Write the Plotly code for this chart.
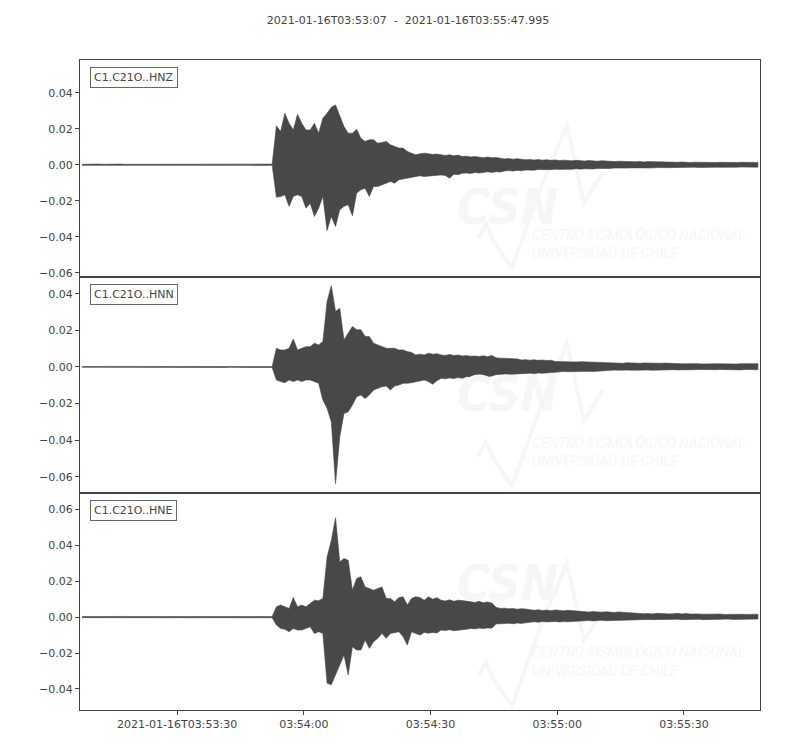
import pandas as pd
import plotly.graph_objects as go
from plotly.subplots import make_subplots

start_time = pd.Timestamp("2021-01-16T03:53:07")
end_time = pd.Timestamp("2021-01-16T03:55:47.995")
channels = ["C1.C21O..HNZ", "C1.C21O..HNN", "C1.C21O..HNE"]

# peak values (max / min) per one-second bin (m/s^2)
bin_seconds = list(range(161))

hnz_max = [
    0.0003, 0.0004, 0.0003, 0.0003, 0.0004, 0.0003, 0.0004, 0.0003, 0.0003, 0.0004,
    0.0003, 0.0003, 0.0004, 0.0003, 0.0004, 0.0003, 0.0003, 0.0004, 0.0003, 0.0003,
    0.0004, 0.0003, 0.0003, 0.0004, 0.0003, 0.0004, 0.0003, 0.0003, 0.0004, 0.0003,
    0.0003, 0.0004, 0.0003, 0.0004, 0.0003, 0.0003, 0.0004, 0.0003, 0.0004, 0.0003,
    0.0003, 0.0004, 0.0003, 0.0004, 0.0003, 0.0004, 0.0217, 0.0185, 0.0287, 0.0231,
    0.0194, 0.0281, 0.0231, 0.0194, 0.0194, 0.0231, 0.0176, 0.0259, 0.0287, 0.0320,
    0.0333, 0.0269, 0.0213, 0.0176, 0.0176, 0.0198, 0.0148, 0.0130, 0.0139, 0.0139,
    0.0120, 0.0124, 0.0130, 0.0111, 0.0102, 0.0093, 0.0093, 0.0074, 0.0065, 0.0056,
    0.0061, 0.0065, 0.0062, 0.0058, 0.0060, 0.0055, 0.0052, 0.0056, 0.0050, 0.0054,
    0.0046, 0.0048, 0.0044, 0.0046, 0.0042, 0.0040, 0.0043, 0.0039, 0.0041, 0.0037,
    0.0033, 0.0035, 0.0031, 0.0034, 0.0030, 0.0028, 0.0030, 0.0027, 0.0029, 0.0026,
    0.0028, 0.0025, 0.0027, 0.0024, 0.0026, 0.0024, 0.0022, 0.0025, 0.0023, 0.0021,
    0.0024, 0.0022, 0.0020, 0.0023, 0.0021, 0.0019, 0.0018, 0.0020, 0.0019, 0.0017,
    0.0018, 0.0017, 0.0019, 0.0016, 0.0018, 0.0017, 0.0016, 0.0015, 0.0017, 0.0016,
    0.0015, 0.0014, 0.0016, 0.0014, 0.0013, 0.0015, 0.0014, 0.0013, 0.0014, 0.0015,
    0.0013, 0.0014, 0.0013, 0.0015, 0.0014, 0.0013, 0.0014, 0.0013, 0.0012, 0.0014,
    0.0013,
]
hnz_min = [
    -0.0003, -0.0003, -0.0004, -0.0003, -0.0003, -0.0004, -0.0003, -0.0003, -0.0004, -0.0003,
    -0.0004, -0.0003, -0.0003, -0.0004, -0.0003, -0.0003, -0.0004, -0.0003, -0.0003, -0.0004,
    -0.0003, -0.0003, -0.0004, -0.0003, -0.0004, -0.0003, -0.0003, -0.0004, -0.0003, -0.0003,
    -0.0004, -0.0003, -0.0003, -0.0004, -0.0003, -0.0004, -0.0003, -0.0003, -0.0004, -0.0003,
    -0.0003, -0.0004, -0.0003, -0.0003, -0.0004, -0.0003, -0.0180, -0.0176, -0.0167, -0.0231,
    -0.0176, -0.0167, -0.0176, -0.0241, -0.0213, -0.0287, -0.0241, -0.0176, -0.0365, -0.0287,
    -0.0343, -0.0250, -0.0231, -0.0222, -0.0283, -0.0157, -0.0139, -0.0130, -0.0176, -0.0120,
    -0.0120, -0.0111, -0.0102, -0.0093, -0.0102, -0.0083, -0.0080, -0.0074, -0.0069, -0.0065,
    -0.0061, -0.0065, -0.0063, -0.0060, -0.0058, -0.0056, -0.0060, -0.0074, -0.0052, -0.0055,
    -0.0047, -0.0045, -0.0048, -0.0043, -0.0046, -0.0041, -0.0039, -0.0042, -0.0038, -0.0040,
    -0.0034, -0.0032, -0.0035, -0.0031, -0.0033, -0.0029, -0.0028, -0.0030, -0.0026, -0.0028,
    -0.0026, -0.0027, -0.0024, -0.0026, -0.0025, -0.0023, -0.0025, -0.0022, -0.0024, -0.0022,
    -0.0021, -0.0023, -0.0020, -0.0021, -0.0019, -0.0020, -0.0018, -0.0019, -0.0017, -0.0018,
    -0.0017, -0.0018, -0.0016, -0.0017, -0.0018, -0.0016, -0.0017, -0.0015, -0.0016, -0.0017,
    -0.0014, -0.0015, -0.0013, -0.0015, -0.0014, -0.0013, -0.0015, -0.0014, -0.0013, -0.0014,
    -0.0013, -0.0014, -0.0012, -0.0013, -0.0014, -0.0013, -0.0012, -0.0014, -0.0013, -0.0012,
    -0.0013,
]

hnn_max = [
    0.0003, 0.0002, 0.0003, 0.0002, 0.0003, 0.0003, 0.0002, 0.0003, 0.0002, 0.0003,
    0.0002, 0.0003, 0.0003, 0.0002, 0.0003, 0.0002, 0.0003, 0.0002, 0.0003, 0.0003,
    0.0002, 0.0003, 0.0002, 0.0003, 0.0002, 0.0003, 0.0003, 0.0002, 0.0003, 0.0002,
    0.0003, 0.0002, 0.0003, 0.0003, 0.0002, 0.0003, 0.0002, 0.0003, 0.0002, 0.0003,
    0.0003, 0.0002, 0.0003, 0.0002, 0.0003, 0.0002, 0.0102, 0.0093, 0.0093, 0.0102,
    0.0152, 0.0093, 0.0102, 0.0111, 0.0111, 0.0130, 0.0120, 0.0139, 0.0358, 0.0444,
    0.0303, 0.0321, 0.0148, 0.0184, 0.0221, 0.0203, 0.0203, 0.0166, 0.0166, 0.0130,
    0.0120, 0.0111, 0.0102, 0.0102, 0.0102, 0.0093, 0.0093, 0.0084, 0.0079, 0.0066,
    0.0070, 0.0066, 0.0075, 0.0070, 0.0072, 0.0066, 0.0063, 0.0068, 0.0062, 0.0066,
    0.0060, 0.0062, 0.0058, 0.0060, 0.0057, 0.0061, 0.0056, 0.0063, 0.0050, 0.0048,
    0.0047, 0.0045, 0.0048, 0.0044, 0.0038, 0.0040, 0.0037, 0.0039, 0.0036, 0.0038,
    0.0035, 0.0037, 0.0030, 0.0029, 0.0031, 0.0028, 0.0030, 0.0027, 0.0029, 0.0028,
    0.0027, 0.0029, 0.0026, 0.0024, 0.0022, 0.0023, 0.0021, 0.0022, 0.0020, 0.0023,
    0.0021, 0.0022, 0.0020, 0.0022, 0.0021, 0.0019, 0.0022, 0.0020, 0.0021, 0.0019,
    0.0018, 0.0019, 0.0017, 0.0018, 0.0019, 0.0017, 0.0018, 0.0016, 0.0018, 0.0017,
    0.0018, 0.0017, 0.0016, 0.0018, 0.0017, 0.0016, 0.0018, 0.0017, 0.0016, 0.0017,
    0.0018,
]
hnn_min = [
    -0.0002, -0.0003, -0.0002, -0.0003, -0.0002, -0.0003, -0.0003, -0.0002, -0.0003, -0.0002,
    -0.0003, -0.0002, -0.0003, -0.0003, -0.0002, -0.0003, -0.0002, -0.0003, -0.0002, -0.0003,
    -0.0003, -0.0002, -0.0003, -0.0002, -0.0003, -0.0002, -0.0003, -0.0003, -0.0002, -0.0003,
    -0.0002, -0.0003, -0.0002, -0.0003, -0.0003, -0.0002, -0.0003, -0.0002, -0.0003, -0.0002,
    -0.0003, -0.0003, -0.0002, -0.0003, -0.0002, -0.0003, -0.0071, -0.0080, -0.0086, -0.0071,
    -0.0080, -0.0071, -0.0080, -0.0071, -0.0071, -0.0080, -0.0089, -0.0181, -0.0226, -0.0300,
    -0.0637, -0.0382, -0.0254, -0.0245, -0.0208, -0.0163, -0.0153, -0.0172, -0.0153, -0.0126,
    -0.0117, -0.0108, -0.0104, -0.0126, -0.0104, -0.0099, -0.0089, -0.0089, -0.0086, -0.0080,
    -0.0077, -0.0071, -0.0080, -0.0095, -0.0075, -0.0062, -0.0065, -0.0060, -0.0063, -0.0058,
    -0.0062, -0.0053, -0.0055, -0.0051, -0.0054, -0.0050, -0.0053, -0.0049, -0.0042, -0.0040,
    -0.0039, -0.0041, -0.0038, -0.0040, -0.0035, -0.0036, -0.0034, -0.0037, -0.0033, -0.0035,
    -0.0034, -0.0032, -0.0026, -0.0027, -0.0025, -0.0026, -0.0028, -0.0024, -0.0026, -0.0025,
    -0.0024, -0.0025, -0.0023, -0.0019, -0.0018, -0.0019, -0.0017, -0.0018, -0.0019, -0.0017,
    -0.0018, -0.0017, -0.0019, -0.0018, -0.0017, -0.0018, -0.0016, -0.0017, -0.0018, -0.0016,
    -0.0015, -0.0016, -0.0015, -0.0014, -0.0016, -0.0015, -0.0014, -0.0016, -0.0015, -0.0014,
    -0.0015, -0.0014, -0.0016, -0.0015, -0.0014, -0.0015, -0.0016, -0.0014, -0.0015, -0.0014,
    -0.0015,
]

hne_max = [
    0.0003, 0.0004, 0.0003, 0.0004, 0.0003, 0.0003, 0.0004, 0.0003, 0.0004, 0.0003,
    0.0004, 0.0003, 0.0003, 0.0004, 0.0003, 0.0004, 0.0003, 0.0003, 0.0004, 0.0003,
    0.0003, 0.0004, 0.0003, 0.0004, 0.0003, 0.0003, 0.0004, 0.0003, 0.0004, 0.0003,
    0.0004, 0.0003, 0.0003, 0.0004, 0.0003, 0.0004, 0.0003, 0.0003, 0.0004, 0.0003,
    0.0003, 0.0004, 0.0003, 0.0004, 0.0003, 0.0003, 0.0057, 0.0067, 0.0057, 0.0048,
    0.0109, 0.0057, 0.0067, 0.0057, 0.0076, 0.0094, 0.0091, 0.0104, 0.0335, 0.0427,
    0.0553, 0.0307, 0.0326, 0.0316, 0.0150, 0.0215, 0.0224, 0.0168, 0.0159, 0.0150,
    0.0159, 0.0168, 0.0104, 0.0104, 0.0085, 0.0109, 0.0113, 0.0067, 0.0104, 0.0113,
    0.0109, 0.0094, 0.0113, 0.0100, 0.0108, 0.0094, 0.0090, 0.0096, 0.0088, 0.0094,
    0.0092, 0.0087, 0.0085, 0.0082, 0.0088, 0.0080, 0.0084, 0.0078, 0.0055, 0.0048,
    0.0050, 0.0046, 0.0048, 0.0044, 0.0047, 0.0045, 0.0040, 0.0038, 0.0041, 0.0037,
    0.0039, 0.0036, 0.0040, 0.0037, 0.0035, 0.0038, 0.0036, 0.0034, 0.0031, 0.0030,
    0.0028, 0.0031, 0.0029, 0.0027, 0.0030, 0.0028, 0.0026, 0.0029, 0.0027, 0.0025,
    0.0022, 0.0020, 0.0021, 0.0019, 0.0020, 0.0018, 0.0021, 0.0019, 0.0020, 0.0018,
    0.0019, 0.0021, 0.0018, 0.0020, 0.0017, 0.0019, 0.0018, 0.0016, 0.0017, 0.0018,
    0.0016, 0.0017, 0.0015, 0.0016, 0.0017, 0.0015, 0.0016, 0.0015, 0.0016, 0.0015,
    0.0016,
]
hne_min = [
    -0.0003, -0.0003, -0.0004, -0.0003, -0.0004, -0.0003, -0.0003, -0.0004, -0.0003, -0.0004,
    -0.0003, -0.0004, -0.0003, -0.0003, -0.0004, -0.0003, -0.0004, -0.0003, -0.0003, -0.0004,
    -0.0004, -0.0003, -0.0003, -0.0004, -0.0003, -0.0004, -0.0003, -0.0003, -0.0004, -0.0003,
    -0.0003, -0.0004, -0.0003, -0.0004, -0.0003, -0.0003, -0.0004, -0.0003, -0.0004, -0.0003,
    -0.0004, -0.0003, -0.0003, -0.0004, -0.0003, -0.0004, -0.0044, -0.0063, -0.0068, -0.0081,
    -0.0063, -0.0072, -0.0072, -0.0063, -0.0054, -0.0091, -0.0081, -0.0091, -0.0368, -0.0377,
    -0.0313, -0.0266, -0.0211, -0.0322, -0.0165, -0.0183, -0.0183, -0.0128, -0.0174, -0.0137,
    -0.0118, -0.0091, -0.0118, -0.0091, -0.0087, -0.0081, -0.0109, -0.0155, -0.0081, -0.0091,
    -0.0100, -0.0085, -0.0090, -0.0085, -0.0088, -0.0072, -0.0075, -0.0070, -0.0076, -0.0072,
    -0.0070, -0.0068, -0.0063, -0.0066, -0.0061, -0.0064, -0.0060, -0.0062, -0.0038, -0.0035,
    -0.0036, -0.0034, -0.0037, -0.0033, -0.0035, -0.0032, -0.0027, -0.0026, -0.0028, -0.0025,
    -0.0027, -0.0026, -0.0024, -0.0027, -0.0025, -0.0026, -0.0024, -0.0022, -0.0020, -0.0021,
    -0.0019, -0.0021, -0.0020, -0.0018, -0.0020, -0.0019, -0.0021, -0.0018, -0.0019, -0.0017,
    -0.0014, -0.0013, -0.0015, -0.0014, -0.0013, -0.0014, -0.0015, -0.0013, -0.0014, -0.0012,
    -0.0013, -0.0012, -0.0014, -0.0013, -0.0012, -0.0013, -0.0012, -0.0014, -0.0013, -0.0012,
    -0.0012, -0.0013, -0.0012, -0.0011, -0.0013, -0.0012, -0.0011, -0.0012, -0.0013, -0.0012,
    -0.0011,
]

y_ranges = [[-0.0622, 0.0583], [-0.0690, 0.0493], [-0.0517, 0.0689]]
y_tickvals = [
    [-0.06, -0.04, -0.02, 0.0, 0.02, 0.04],
    [-0.06, -0.04, -0.02, 0.0, 0.02, 0.04],
    [-0.04, -0.02, 0.0, 0.02, 0.04, 0.06],
]
x_tick_times = ["2021-01-16 03:53:30", "2021-01-16 03:54:00", "2021-01-16 03:54:30",
                "2021-01-16 03:55:00", "2021-01-16 03:55:30"]
x_tick_text = ["2021-01-16T03:53:30", "03:54:00", "03:54:30", "03:55:00", "03:55:30"]

INK = "#444444"
WAVE = "#484848"
WATERMARK = "#f6f6f6"


def envelope_polygon(maxs, mins):
    # min/max envelope per bin, closed into one filled outline
    t_mid = [start_time + pd.Timedelta(seconds=s + 0.5) for s in bin_seconds]
    xs = t_mid + t_mid[::-1]
    ys = list(maxs) + list(mins)[::-1]
    return xs, ys


fig = make_subplots(rows=3, cols=1, shared_xaxes=True, vertical_spacing=0)

series = [(hnz_max, hnz_min), (hnn_max, hnn_min), (hne_max, hne_min)]
for i, (mx, mn) in enumerate(series):
    xs, ys = envelope_polygon(mx, mn)
    fig.add_trace(go.Scatter(x=xs, y=ys, mode="lines", fill="toself",
                             fillcolor=WAVE, line=dict(color=WAVE, width=0.6),
                             showlegend=False, hoverinfo="skip"),
                  row=i + 1, col=1)

for i in range(3):
    row = i + 1
    fig.update_yaxes(range=y_ranges[i], tickvals=y_tickvals[i], tickformat=".2f",
                     showgrid=False, zeroline=False, showline=True, mirror=True,
                     linecolor=INK, linewidth=1, ticks="outside", ticklen=4,
                     tickcolor=INK, tickfont=dict(size=11, color=INK),
                     row=row, col=1)
    fig.update_xaxes(type="date", range=[start_time, end_time], showgrid=False,
                     zeroline=False, showline=True, mirror=True, linecolor=INK,
                     linewidth=1, row=row, col=1)

    # channel label box
    fig.add_annotation(text=channels[i], xref="x domain" if row == 1 else f"x{row} domain",
                       yref="y domain" if row == 1 else f"y{row} domain",
                       x=0.0147, y=0.968, xanchor="left", yanchor="top", showarrow=False,
                       font=dict(size=11, color=INK), bgcolor="white",
                       bordercolor="#666666", borderwidth=1, borderpad=3)

    # faint CSN watermark
    dy = [0, 218, 438][i]

    def px(x):
        return (x - 80) / 680

    def py(y):
        return (710 - y - dy) / 650

    pts = [(478, 238), (486, 224), (494, 242), (512, 268), (540, 190),
           (567, 125), (584, 203), (603, 172)]
    path = "M " + " L ".join(f"{px(a):.4f},{py(b):.4f}" for a, b in pts)
    fig.add_shape(type="path", path=path, xref="paper", yref="paper",
                  line=dict(color=WATERMARK, width=4), layer="below")
    fig.add_annotation(text="<b><i>CSN</i></b>", xref="paper", yref="paper",
                       x=px(507), y=py(176), showarrow=False,
                       font=dict(family="DejaVu Sans Condensed, DejaVu Sans", size=50,
                                 color=WATERMARK))
    fig.add_annotation(text="<i>CENTRO SISMOLÓGICO NACIONAL</i>", xref="paper", yref="paper",
                       x=px(530), y=py(224), xanchor="left", showarrow=False,
                       font=dict(family="Roboto", size=14, color=WATERMARK))
    fig.add_annotation(text="<i>UNIVERSIDAD DE CHILE</i>", xref="paper", yref="paper",
                       x=px(530), y=py(243), xanchor="left", showarrow=False,
                       font=dict(family="Roboto", size=14, color=WATERMARK))

fig.update_xaxes(showticklabels=False, ticks="", row=1, col=1)
fig.update_xaxes(showticklabels=False, ticks="", row=2, col=1)
fig.update_xaxes(tickvals=x_tick_times, ticktext=x_tick_text, ticks="outside",
                 ticklen=4, tickcolor=INK, tickfont=dict(size=11, color=INK),
                 row=3, col=1)

fig.update_layout(
    width=800, height=750,
    margin=dict(l=72, r=48, t=52, b=48),
    paper_bgcolor="white", plot_bgcolor="white",
    font=dict(family="DejaVu Sans", size=11, color=INK),
    title=dict(text="2021-01-16T03:53:07\u00a0\u00a0-\u00a0\u00a02021-01-16T03:55:47.995",
               x=0.5, xref="container", y=1 - 12 / 750, yref="container",
               yanchor="middle", font=dict(size=11, color=INK)),
)

fig.write_html("out.html")
